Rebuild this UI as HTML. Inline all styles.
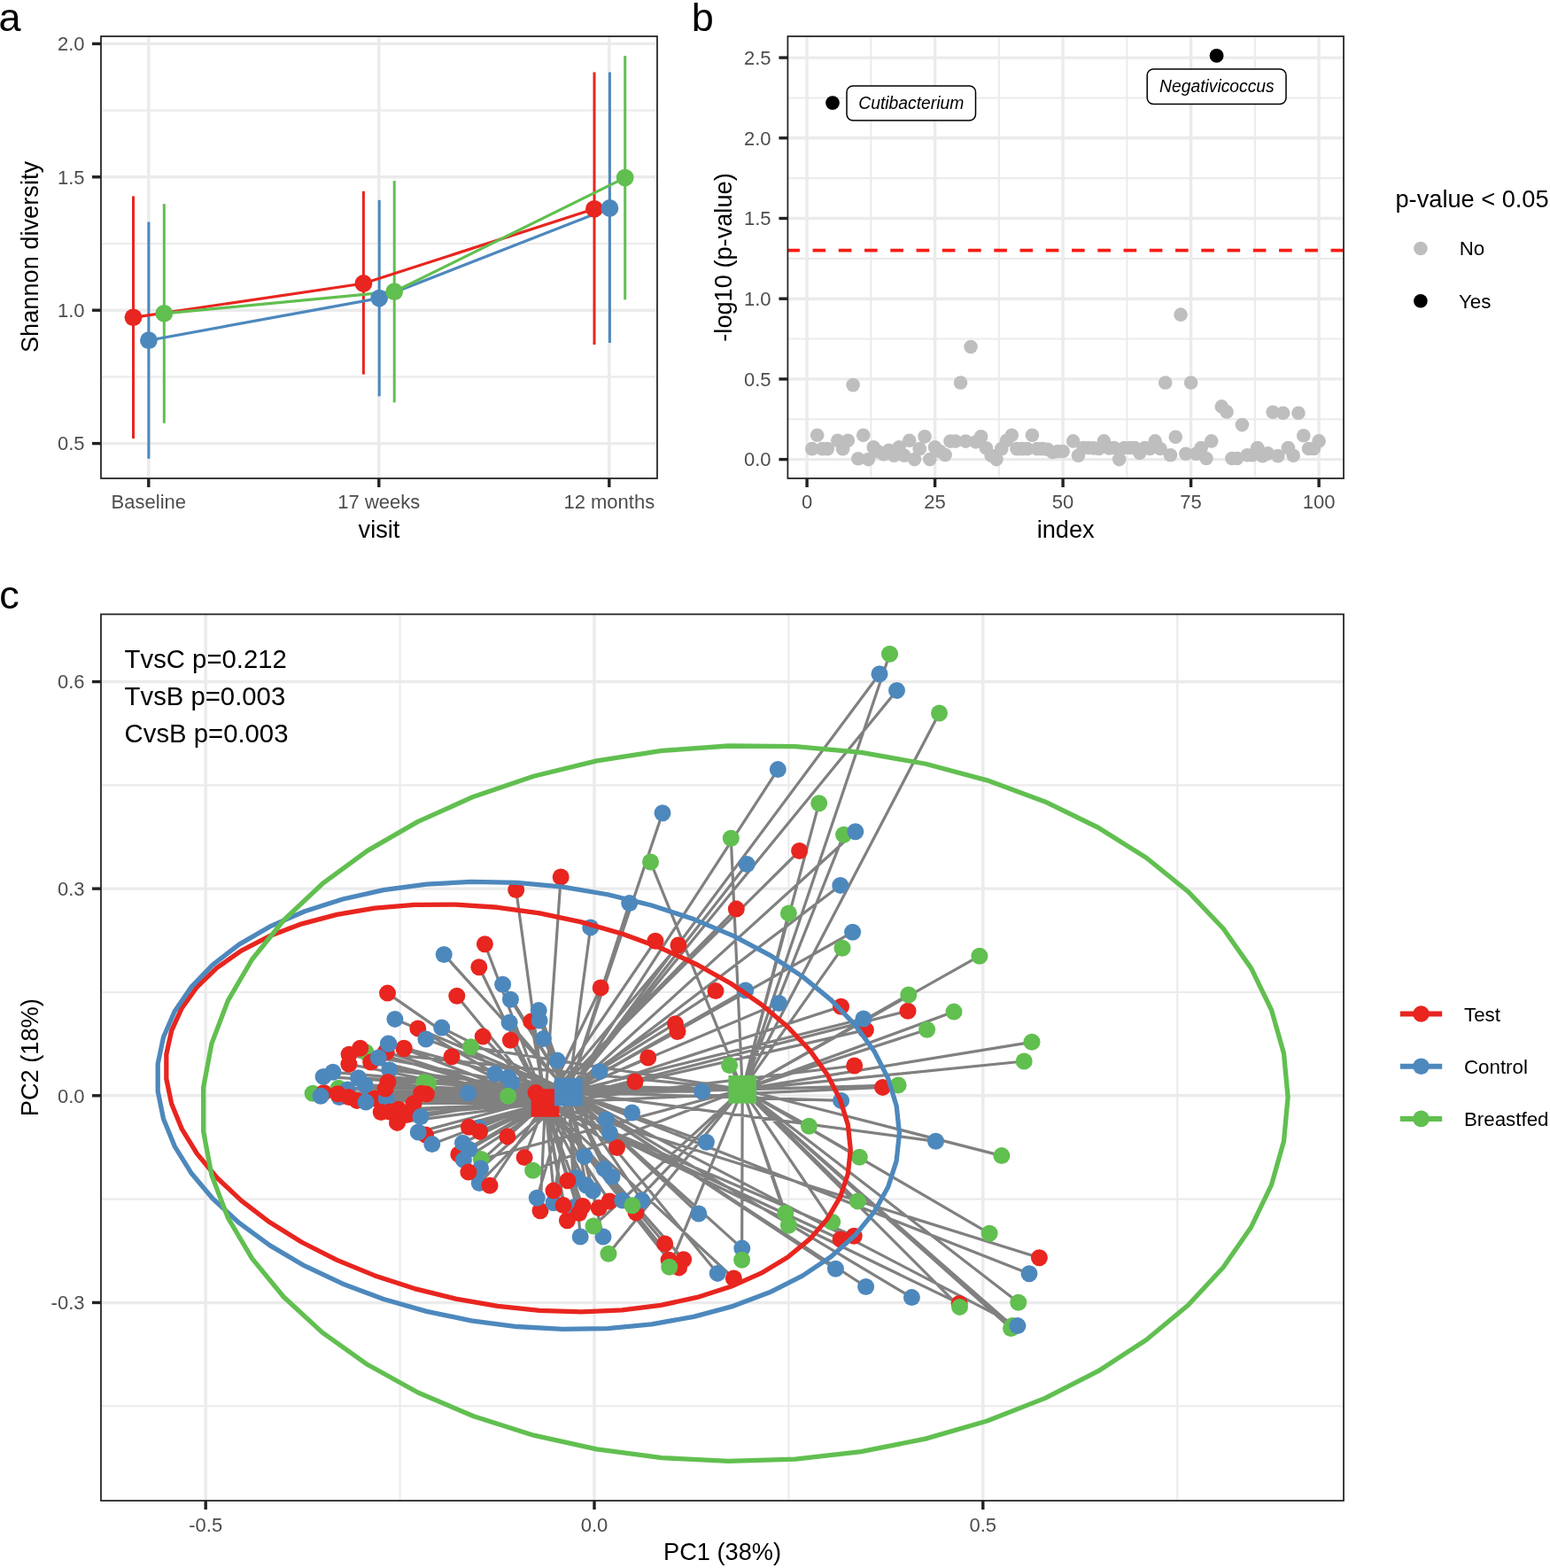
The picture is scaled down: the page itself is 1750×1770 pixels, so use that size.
<!DOCTYPE html>
<html><head><meta charset="utf-8"><title>Figure</title>
<style>html,body{margin:0;padding:0;background:#fff;}svg{display:block;}</style></head>
<body><svg width="1750" height="1770" viewBox="0 0 1750 1770" font-family="'Liberation Sans', Arial, Helvetica, sans-serif">
<rect width="1750" height="1770" fill="#fff"/>
<clipPath id="ca"><rect x="114" y="41" width="628" height="499"/></clipPath>
<g clip-path="url(#ca)">
<line x1="114" y1="425.4" x2="742" y2="425.4" stroke="#EBEBEB" stroke-width="2.1" />
<line x1="114" y1="275" x2="742" y2="275" stroke="#EBEBEB" stroke-width="2.1" />
<line x1="114" y1="124.6" x2="742" y2="124.6" stroke="#EBEBEB" stroke-width="2.1" />
<line x1="114" y1="500.6" x2="742" y2="500.6" stroke="#EBEBEB" stroke-width="3.4" />
<line x1="114" y1="350.2" x2="742" y2="350.2" stroke="#EBEBEB" stroke-width="3.4" />
<line x1="114" y1="199.8" x2="742" y2="199.8" stroke="#EBEBEB" stroke-width="3.4" />
<line x1="114" y1="49.4" x2="742" y2="49.4" stroke="#EBEBEB" stroke-width="3.4" />
<line x1="167.8" y1="41" x2="167.8" y2="540" stroke="#EBEBEB" stroke-width="3.4" />
<line x1="427.8" y1="41" x2="427.8" y2="540" stroke="#EBEBEB" stroke-width="3.4" />
<line x1="687.8" y1="41" x2="687.8" y2="540" stroke="#EBEBEB" stroke-width="3.4" />
<line x1="150.5" y1="221.5" x2="150.5" y2="495" stroke="#E8251F" stroke-width="3.0" />
<line x1="410.4" y1="215.8" x2="410.4" y2="422.6" stroke="#E8251F" stroke-width="3.0" />
<line x1="671" y1="81.6" x2="671" y2="389.1" stroke="#E8251F" stroke-width="3.0" />
<line x1="167.9" y1="250.6" x2="167.9" y2="517.7" stroke="#4D88BD" stroke-width="3.0" />
<line x1="428.2" y1="225.8" x2="428.2" y2="447.3" stroke="#4D88BD" stroke-width="3.0" />
<line x1="688.4" y1="81.6" x2="688.4" y2="387" stroke="#4D88BD" stroke-width="3.0" />
<line x1="185.3" y1="230.2" x2="185.3" y2="477.7" stroke="#61BF50" stroke-width="3.0" />
<line x1="445.2" y1="204.1" x2="445.2" y2="454.3" stroke="#61BF50" stroke-width="3.0" />
<line x1="705.7" y1="63" x2="705.7" y2="338.3" stroke="#61BF50" stroke-width="3.0" />
<polyline points="150.5,358.3 410.4,320 671,235.8" fill="none" stroke="#E8251F" stroke-width="3.2"/>
<polyline points="167.9,384.2 428.2,336.6 688.4,235" fill="none" stroke="#4D88BD" stroke-width="3.2"/>
<polyline points="185.3,353.8 445.2,329.2 705.7,200.6" fill="none" stroke="#61BF50" stroke-width="3.2"/>
<circle cx="150.5" cy="358.3" r="9.9" fill="#E8251F"/>
<circle cx="410.4" cy="320" r="9.9" fill="#E8251F"/>
<circle cx="671" cy="235.8" r="9.9" fill="#E8251F"/>
<circle cx="167.9" cy="384.2" r="9.9" fill="#4D88BD"/>
<circle cx="428.2" cy="336.6" r="9.9" fill="#4D88BD"/>
<circle cx="688.4" cy="235" r="9.9" fill="#4D88BD"/>
<circle cx="185.3" cy="353.8" r="9.9" fill="#61BF50"/>
<circle cx="445.2" cy="329.2" r="9.9" fill="#61BF50"/>
<circle cx="705.7" cy="200.6" r="9.9" fill="#61BF50"/>
</g>
<rect x="114" y="41" width="628" height="499" fill="none" stroke="#222222" stroke-width="1.75"/>
<line x1="104" y1="500.6" x2="114" y2="500.6" stroke="#222222" stroke-width="3.4" />
<text x="95.5" y="508.4" font-size="22.0" fill="#4D4D4D" text-anchor="end" >0.5</text>
<line x1="104" y1="350.2" x2="114" y2="350.2" stroke="#222222" stroke-width="3.4" />
<text x="95.5" y="358" font-size="22.0" fill="#4D4D4D" text-anchor="end" >1.0</text>
<line x1="104" y1="199.8" x2="114" y2="199.8" stroke="#222222" stroke-width="3.4" />
<text x="95.5" y="207.6" font-size="22.0" fill="#4D4D4D" text-anchor="end" >1.5</text>
<line x1="104" y1="49.4" x2="114" y2="49.4" stroke="#222222" stroke-width="3.4" />
<text x="95.5" y="57.2" font-size="22.0" fill="#4D4D4D" text-anchor="end" >2.0</text>
<line x1="167.8" y1="540" x2="167.8" y2="550" stroke="#222222" stroke-width="3.4" />
<text x="167.8" y="574.4" font-size="22.0" fill="#4D4D4D" text-anchor="middle" >Baseline</text>
<line x1="427.8" y1="540" x2="427.8" y2="550" stroke="#222222" stroke-width="3.4" />
<text x="427.8" y="574.4" font-size="22.0" fill="#4D4D4D" text-anchor="middle" >17 weeks</text>
<line x1="687.8" y1="540" x2="687.8" y2="550" stroke="#222222" stroke-width="3.4" />
<text x="687.8" y="574.4" font-size="22.0" fill="#4D4D4D" text-anchor="middle" >12 months</text>
<text x="428" y="607.1" font-size="27.2" fill="#000" text-anchor="middle" >visit</text>
<text x="43.3" y="290" font-size="27.2" fill="#000" text-anchor="middle" transform="rotate(-90 43.3 290)">Shannon diversity</text>
<text x="-1.5" y="34.6" font-size="45" fill="#000" text-anchor="start" >a</text>
<clipPath id="cb"><rect x="889.4" y="41" width="627.6" height="499"/></clipPath>
<g clip-path="url(#cb)">
<line x1="889.4" y1="473.25" x2="1517" y2="473.25" stroke="#EBEBEB" stroke-width="2.1" />
<line x1="889.4" y1="382.55" x2="1517" y2="382.55" stroke="#EBEBEB" stroke-width="2.1" />
<line x1="889.4" y1="291.85" x2="1517" y2="291.85" stroke="#EBEBEB" stroke-width="2.1" />
<line x1="889.4" y1="201.15" x2="1517" y2="201.15" stroke="#EBEBEB" stroke-width="2.1" />
<line x1="889.4" y1="110.45" x2="1517" y2="110.45" stroke="#EBEBEB" stroke-width="2.1" />
<line x1="983.35" y1="41" x2="983.35" y2="540" stroke="#EBEBEB" stroke-width="2.1" />
<line x1="1127.85" y1="41" x2="1127.85" y2="540" stroke="#EBEBEB" stroke-width="2.1" />
<line x1="1272.35" y1="41" x2="1272.35" y2="540" stroke="#EBEBEB" stroke-width="2.1" />
<line x1="1416.85" y1="41" x2="1416.85" y2="540" stroke="#EBEBEB" stroke-width="2.1" />
<line x1="889.4" y1="518.6" x2="1517" y2="518.6" stroke="#EBEBEB" stroke-width="3.4" />
<line x1="889.4" y1="427.9" x2="1517" y2="427.9" stroke="#EBEBEB" stroke-width="3.4" />
<line x1="889.4" y1="337.2" x2="1517" y2="337.2" stroke="#EBEBEB" stroke-width="3.4" />
<line x1="889.4" y1="246.5" x2="1517" y2="246.5" stroke="#EBEBEB" stroke-width="3.4" />
<line x1="889.4" y1="155.8" x2="1517" y2="155.8" stroke="#EBEBEB" stroke-width="3.4" />
<line x1="889.4" y1="65.1" x2="1517" y2="65.1" stroke="#EBEBEB" stroke-width="3.4" />
<line x1="911.1" y1="41" x2="911.1" y2="540" stroke="#EBEBEB" stroke-width="3.4" />
<line x1="1055.6" y1="41" x2="1055.6" y2="540" stroke="#EBEBEB" stroke-width="3.4" />
<line x1="1200.1" y1="41" x2="1200.1" y2="540" stroke="#EBEBEB" stroke-width="3.4" />
<line x1="1344.6" y1="41" x2="1344.6" y2="540" stroke="#EBEBEB" stroke-width="3.4" />
<line x1="1489.1" y1="41" x2="1489.1" y2="540" stroke="#EBEBEB" stroke-width="3.4" />
<circle cx="916.88" cy="506.63" r="7.8" fill="#BEBEBE"/>
<circle cx="922.66" cy="491.21" r="7.8" fill="#BEBEBE"/>
<circle cx="928.44" cy="506.63" r="7.8" fill="#BEBEBE"/>
<circle cx="934.22" cy="506.63" r="7.8" fill="#BEBEBE"/>
<circle cx="945.78" cy="497.19" r="7.8" fill="#BEBEBE"/>
<circle cx="951.56" cy="506.63" r="7.8" fill="#BEBEBE"/>
<circle cx="957.34" cy="497.19" r="7.8" fill="#BEBEBE"/>
<circle cx="963.12" cy="434.61" r="7.8" fill="#BEBEBE"/>
<circle cx="968.9" cy="517.69" r="7.8" fill="#BEBEBE"/>
<circle cx="974.68" cy="491.21" r="7.8" fill="#BEBEBE"/>
<circle cx="980.46" cy="518.6" r="7.8" fill="#BEBEBE"/>
<circle cx="986.24" cy="504.81" r="7.8" fill="#BEBEBE"/>
<circle cx="992.02" cy="510.07" r="7.8" fill="#BEBEBE"/>
<circle cx="997.8" cy="512.61" r="7.8" fill="#BEBEBE"/>
<circle cx="1003.58" cy="508.26" r="7.8" fill="#BEBEBE"/>
<circle cx="1009.36" cy="514.25" r="7.8" fill="#BEBEBE"/>
<circle cx="1015.14" cy="504.81" r="7.8" fill="#BEBEBE"/>
<circle cx="1020.92" cy="514.25" r="7.8" fill="#BEBEBE"/>
<circle cx="1026.7" cy="497.19" r="7.8" fill="#BEBEBE"/>
<circle cx="1032.48" cy="518.6" r="7.8" fill="#BEBEBE"/>
<circle cx="1038.26" cy="506.63" r="7.8" fill="#BEBEBE"/>
<circle cx="1044.04" cy="492.84" r="7.8" fill="#BEBEBE"/>
<circle cx="1049.82" cy="518.6" r="7.8" fill="#BEBEBE"/>
<circle cx="1055.6" cy="504.81" r="7.8" fill="#BEBEBE"/>
<circle cx="1061.38" cy="509.53" r="7.8" fill="#BEBEBE"/>
<circle cx="1067.16" cy="513.52" r="7.8" fill="#BEBEBE"/>
<circle cx="1072.94" cy="498.1" r="7.8" fill="#BEBEBE"/>
<circle cx="1078.72" cy="498.1" r="7.8" fill="#BEBEBE"/>
<circle cx="1084.5" cy="432.07" r="7.8" fill="#BEBEBE"/>
<circle cx="1090.28" cy="498.1" r="7.8" fill="#BEBEBE"/>
<circle cx="1096.06" cy="391.44" r="7.8" fill="#BEBEBE"/>
<circle cx="1101.84" cy="498.83" r="7.8" fill="#BEBEBE"/>
<circle cx="1107.62" cy="492.84" r="7.8" fill="#BEBEBE"/>
<circle cx="1113.4" cy="505.72" r="7.8" fill="#BEBEBE"/>
<circle cx="1119.18" cy="514.25" r="7.8" fill="#BEBEBE"/>
<circle cx="1124.96" cy="518.6" r="7.8" fill="#BEBEBE"/>
<circle cx="1130.74" cy="506.63" r="7.8" fill="#BEBEBE"/>
<circle cx="1136.52" cy="497.19" r="7.8" fill="#BEBEBE"/>
<circle cx="1142.3" cy="491.21" r="7.8" fill="#BEBEBE"/>
<circle cx="1148.08" cy="506.63" r="7.8" fill="#BEBEBE"/>
<circle cx="1153.86" cy="506.63" r="7.8" fill="#BEBEBE"/>
<circle cx="1159.64" cy="506.63" r="7.8" fill="#BEBEBE"/>
<circle cx="1165.42" cy="491.21" r="7.8" fill="#BEBEBE"/>
<circle cx="1171.2" cy="506.63" r="7.8" fill="#BEBEBE"/>
<circle cx="1176.98" cy="506.63" r="7.8" fill="#BEBEBE"/>
<circle cx="1182.76" cy="507.35" r="7.8" fill="#BEBEBE"/>
<circle cx="1188.54" cy="510.44" r="7.8" fill="#BEBEBE"/>
<circle cx="1194.32" cy="509.53" r="7.8" fill="#BEBEBE"/>
<circle cx="1200.1" cy="509.53" r="7.8" fill="#BEBEBE"/>
<circle cx="1211.66" cy="497.92" r="7.8" fill="#BEBEBE"/>
<circle cx="1217.44" cy="514.25" r="7.8" fill="#BEBEBE"/>
<circle cx="1223.22" cy="505.54" r="7.8" fill="#BEBEBE"/>
<circle cx="1229" cy="505.54" r="7.8" fill="#BEBEBE"/>
<circle cx="1234.78" cy="505.9" r="7.8" fill="#BEBEBE"/>
<circle cx="1240.56" cy="506.45" r="7.8" fill="#BEBEBE"/>
<circle cx="1246.34" cy="497.92" r="7.8" fill="#BEBEBE"/>
<circle cx="1252.12" cy="505.9" r="7.8" fill="#BEBEBE"/>
<circle cx="1257.9" cy="505.54" r="7.8" fill="#BEBEBE"/>
<circle cx="1263.68" cy="518.6" r="7.8" fill="#BEBEBE"/>
<circle cx="1269.46" cy="505.54" r="7.8" fill="#BEBEBE"/>
<circle cx="1275.24" cy="505.54" r="7.8" fill="#BEBEBE"/>
<circle cx="1281.02" cy="505.54" r="7.8" fill="#BEBEBE"/>
<circle cx="1286.8" cy="511.34" r="7.8" fill="#BEBEBE"/>
<circle cx="1292.58" cy="505.54" r="7.8" fill="#BEBEBE"/>
<circle cx="1298.36" cy="506.45" r="7.8" fill="#BEBEBE"/>
<circle cx="1304.14" cy="497.92" r="7.8" fill="#BEBEBE"/>
<circle cx="1309.92" cy="506.45" r="7.8" fill="#BEBEBE"/>
<circle cx="1315.7" cy="432.07" r="7.8" fill="#BEBEBE"/>
<circle cx="1321.48" cy="513.7" r="7.8" fill="#BEBEBE"/>
<circle cx="1327.26" cy="493.2" r="7.8" fill="#BEBEBE"/>
<circle cx="1333.04" cy="355.16" r="7.8" fill="#BEBEBE"/>
<circle cx="1338.82" cy="512.25" r="7.8" fill="#BEBEBE"/>
<circle cx="1344.6" cy="432.07" r="7.8" fill="#BEBEBE"/>
<circle cx="1350.38" cy="512.25" r="7.8" fill="#BEBEBE"/>
<circle cx="1356.16" cy="505.54" r="7.8" fill="#BEBEBE"/>
<circle cx="1361.94" cy="517.51" r="7.8" fill="#BEBEBE"/>
<circle cx="1367.72" cy="497.92" r="7.8" fill="#BEBEBE"/>
<circle cx="1379.28" cy="458.92" r="7.8" fill="#BEBEBE"/>
<circle cx="1385.06" cy="464.91" r="7.8" fill="#BEBEBE"/>
<circle cx="1390.84" cy="517.51" r="7.8" fill="#BEBEBE"/>
<circle cx="1396.62" cy="517.51" r="7.8" fill="#BEBEBE"/>
<circle cx="1402.4" cy="479.6" r="7.8" fill="#BEBEBE"/>
<circle cx="1408.18" cy="513.7" r="7.8" fill="#BEBEBE"/>
<circle cx="1413.96" cy="513.7" r="7.8" fill="#BEBEBE"/>
<circle cx="1419.74" cy="505.54" r="7.8" fill="#BEBEBE"/>
<circle cx="1425.52" cy="514.61" r="7.8" fill="#BEBEBE"/>
<circle cx="1431.3" cy="511.89" r="7.8" fill="#BEBEBE"/>
<circle cx="1437.08" cy="465.27" r="7.8" fill="#BEBEBE"/>
<circle cx="1442.86" cy="514.61" r="7.8" fill="#BEBEBE"/>
<circle cx="1448.64" cy="466.18" r="7.8" fill="#BEBEBE"/>
<circle cx="1454.42" cy="505.54" r="7.8" fill="#BEBEBE"/>
<circle cx="1460.2" cy="514.25" r="7.8" fill="#BEBEBE"/>
<circle cx="1465.98" cy="466.18" r="7.8" fill="#BEBEBE"/>
<circle cx="1471.76" cy="491.75" r="7.8" fill="#BEBEBE"/>
<circle cx="1477.54" cy="506.45" r="7.8" fill="#BEBEBE"/>
<circle cx="1483.32" cy="506.45" r="7.8" fill="#BEBEBE"/>
<circle cx="1489.1" cy="497.92" r="7.8" fill="#BEBEBE"/>
<line x1="888.3" y1="282.59" x2="1517" y2="282.59" stroke="#F81C14" stroke-width="3.6" stroke-dasharray="14.6 14.65"/>
<circle cx="940" cy="116.1" r="7.9" fill="#000"/>
<circle cx="1373.6" cy="62.9" r="7.9" fill="#000"/>
</g>
<rect x="956" y="97" width="145.5" height="39" rx="7" ry="7" fill="#fff" stroke="#000" stroke-width="1.5"/>
<text x="1028.8" y="123.2" font-size="19.3" fill="#000" text-anchor="middle" font-style="italic">Cutibacterium</text>
<rect x="1295.2" y="78" width="156.8" height="39.5" rx="7" ry="7" fill="#fff" stroke="#000" stroke-width="1.5"/>
<text x="1373.9" y="104" font-size="19.3" fill="#000" text-anchor="middle" font-style="italic">Negativicoccus</text>
<rect x="889.4" y="41" width="627.6" height="499" fill="none" stroke="#222222" stroke-width="1.75"/>
<line x1="879.4" y1="518.6" x2="889.4" y2="518.6" stroke="#222222" stroke-width="3.4" />
<text x="870.6" y="526.4" font-size="22.0" fill="#4D4D4D" text-anchor="end" >0.0</text>
<line x1="879.4" y1="427.9" x2="889.4" y2="427.9" stroke="#222222" stroke-width="3.4" />
<text x="870.6" y="435.7" font-size="22.0" fill="#4D4D4D" text-anchor="end" >0.5</text>
<line x1="879.4" y1="337.2" x2="889.4" y2="337.2" stroke="#222222" stroke-width="3.4" />
<text x="870.6" y="345" font-size="22.0" fill="#4D4D4D" text-anchor="end" >1.0</text>
<line x1="879.4" y1="246.5" x2="889.4" y2="246.5" stroke="#222222" stroke-width="3.4" />
<text x="870.6" y="254.3" font-size="22.0" fill="#4D4D4D" text-anchor="end" >1.5</text>
<line x1="879.4" y1="155.8" x2="889.4" y2="155.8" stroke="#222222" stroke-width="3.4" />
<text x="870.6" y="163.6" font-size="22.0" fill="#4D4D4D" text-anchor="end" >2.0</text>
<line x1="879.4" y1="65.1" x2="889.4" y2="65.1" stroke="#222222" stroke-width="3.4" />
<text x="870.6" y="72.9" font-size="22.0" fill="#4D4D4D" text-anchor="end" >2.5</text>
<line x1="911.1" y1="540" x2="911.1" y2="550" stroke="#222222" stroke-width="3.4" />
<text x="911.1" y="574.4" font-size="22.0" fill="#4D4D4D" text-anchor="middle" >0</text>
<line x1="1055.6" y1="540" x2="1055.6" y2="550" stroke="#222222" stroke-width="3.4" />
<text x="1055.6" y="574.4" font-size="22.0" fill="#4D4D4D" text-anchor="middle" >25</text>
<line x1="1200.1" y1="540" x2="1200.1" y2="550" stroke="#222222" stroke-width="3.4" />
<text x="1200.1" y="574.4" font-size="22.0" fill="#4D4D4D" text-anchor="middle" >50</text>
<line x1="1344.6" y1="540" x2="1344.6" y2="550" stroke="#222222" stroke-width="3.4" />
<text x="1344.6" y="574.4" font-size="22.0" fill="#4D4D4D" text-anchor="middle" >75</text>
<line x1="1489.1" y1="540" x2="1489.1" y2="550" stroke="#222222" stroke-width="3.4" />
<text x="1489.1" y="574.4" font-size="22.0" fill="#4D4D4D" text-anchor="middle" >100</text>
<text x="1203.2" y="607.1" font-size="27.2" fill="#000" text-anchor="middle" >index</text>
<text x="825.9" y="290.5" font-size="27.2" fill="#000" text-anchor="middle" transform="rotate(-90 825.9 290.5)">-log10 (p-value)</text>
<text x="780.7" y="34.8" font-size="45" fill="#000" text-anchor="start" >b</text>
<text x="1575.5" y="234" font-size="27.2" fill="#000" text-anchor="start" >p-value &lt; 0.05</text>
<circle cx="1603.9" cy="280.5" r="7.8" fill="#BEBEBE"/>
<circle cx="1603.9" cy="339.7" r="7.8" fill="#000"/>
<text x="1647.7" y="288.3" font-size="22.3" fill="#000" text-anchor="start" >No</text>
<text x="1647" y="347.5" font-size="22.3" fill="#000" text-anchor="start" >Yes</text>
<clipPath id="cc"><rect x="114" y="693.4" width="1403" height="1000.6"/></clipPath>
<g clip-path="url(#cc)">
<line x1="114" y1="1587.26" x2="1517" y2="1587.26" stroke="#EBEBEB" stroke-width="2.1" />
<line x1="114" y1="1353.62" x2="1517" y2="1353.62" stroke="#EBEBEB" stroke-width="2.1" />
<line x1="114" y1="1119.98" x2="1517" y2="1119.98" stroke="#EBEBEB" stroke-width="2.1" />
<line x1="114" y1="886.34" x2="1517" y2="886.34" stroke="#EBEBEB" stroke-width="2.1" />
<line x1="451.6" y1="693.4" x2="451.6" y2="1694" stroke="#EBEBEB" stroke-width="2.1" />
<line x1="890.4" y1="693.4" x2="890.4" y2="1694" stroke="#EBEBEB" stroke-width="2.1" />
<line x1="1329.2" y1="693.4" x2="1329.2" y2="1694" stroke="#EBEBEB" stroke-width="2.1" />
<line x1="114" y1="1470.44" x2="1517" y2="1470.44" stroke="#EBEBEB" stroke-width="3.4" />
<line x1="114" y1="1236.8" x2="1517" y2="1236.8" stroke="#EBEBEB" stroke-width="3.4" />
<line x1="114" y1="1003.16" x2="1517" y2="1003.16" stroke="#EBEBEB" stroke-width="3.4" />
<line x1="114" y1="769.52" x2="1517" y2="769.52" stroke="#EBEBEB" stroke-width="3.4" />
<line x1="232.2" y1="693.4" x2="232.2" y2="1694" stroke="#EBEBEB" stroke-width="3.4" />
<line x1="671" y1="693.4" x2="671" y2="1694" stroke="#EBEBEB" stroke-width="3.4" />
<line x1="1109.8" y1="693.4" x2="1109.8" y2="1694" stroke="#EBEBEB" stroke-width="3.4" />
<path d="M838.2 1229.8L1004.5 738.3M641.8 1232.7L993 760.7M641.8 1232.7L1012.5 779.4M838.2 1229.8L1060.5 805M641.8 1232.7L878.3 868.6M641.8 1232.7L748 917.7M838.2 1229.8L924.7 906.7M838.2 1229.8L825.3 946.3M838.2 1229.8L952.6 942.2M641.8 1232.7L965.8 938.7M838.2 1229.8L734.5 973M615.5 1245L633.2 990M615.5 1245L582.7 1004.5M641.8 1232.7L710.7 1019.5M615.5 1245L902.6 960.5M641.8 1232.7L843.2 975.5M641.8 1232.7L948.8 999.4M615.5 1245L831.3 1026.1M838.2 1229.8L890.4 1030.9M641.8 1232.7L501.2 1077.5M615.5 1245L547.4 1065.8M615.5 1245L540.8 1091.8M615.5 1245L437.5 1121.1M615.5 1245L515.8 1124.2M641.8 1232.7L445.9 1150.4M615.5 1245L471.8 1160.9M641.8 1232.7L498.7 1160.1M641.8 1232.7L480.9 1173M615.5 1245L545.2 1170.1M838.2 1229.8L531.5 1181.8M615.5 1245L510 1192.7M615.5 1245L456.1 1183.3M615.5 1245L436.2 1187.7M641.8 1232.7L438.7 1178.3M838.2 1229.8L413 1187.7M615.5 1245L406.7 1183.3M615.5 1245L394.1 1190.2M641.8 1232.7L427.4 1194M641.8 1232.7L666.7 1046.9M615.5 1245L739.9 1062.2M615.5 1245L766 1066.9M615.5 1245L678.2 1115M641.8 1232.7L567.6 1111.3M641.8 1232.7L576.4 1128.3M641.8 1232.7L609.1 1151.9M615.5 1245L599.7 1153.1M641.8 1232.7L608.2 1140.6M641.8 1232.7L575.1 1154.2M615.5 1245L576.4 1174.3M641.8 1232.7L613.5 1172.6M641.8 1232.7L629.2 1197.1M615.5 1245L762.5 1155.7M615.5 1245L765 1164.5M615.5 1245L731.7 1194M641.8 1232.7L962.6 1052.3M838.2 1229.8L951 1070.2M615.5 1245L808 1118.6M641.8 1232.7L841.7 1117.9M641.8 1232.7L879.4 1132.4M615.5 1245L949.5 1136.2M615.5 1245L977.4 1162.6M641.8 1232.7L974.9 1150M838.2 1229.8L823.6 1202.6M615.5 1245L964.7 1203M838.2 1229.8L1105.9 1079.2M838.2 1229.8L1025.8 1123M615.5 1245L1025 1141.2M838.2 1229.8L1077 1142.1M838.2 1229.8L1046.6 1162.2M838.2 1229.8L1165 1176.3M838.2 1229.8L1156.2 1198M838.2 1229.8L353.1 1234.3M615.5 1245L365.6 1233.4M641.8 1232.7L362.1 1237.3M641.8 1232.7L365.1 1215.4M641.8 1232.7L375.9 1210.3M838.2 1229.8L382.3 1228.3M641.8 1232.7L383.1 1238.6M615.5 1245L381.4 1234.7M641.8 1232.7L392.6 1230M615.5 1245L393.9 1238.6M615.5 1245L393.9 1201.3M641.8 1232.7L404.6 1216.7M641.8 1232.7L412.3 1224.9M615.5 1245L402.9 1242.4M641.8 1232.7L413.1 1244.1M615.5 1245L422.6 1239.9M838.2 1229.8L431.6 1241.1M641.8 1232.7L436.3 1240.3M615.5 1245L418.7 1199.1M641.8 1232.7L438.4 1178.1M615.5 1245L435.4 1187.1M615.5 1245L456 1183.7M641.8 1232.7L439.7 1207.7M615.5 1245L438 1221.4M615.5 1245L435 1229.1M615.5 1245L430.2 1255.5M615.5 1245L439.7 1254.9M615.5 1245L448.5 1267.4M615.5 1245L450 1252.3M615.5 1245L459.4 1258.2M615.5 1245L467.1 1245.4M615.5 1245L475.7 1234.3M838.2 1229.8L479.1 1221.4M641.8 1232.7L475 1260.5M641.8 1232.7L472.2 1278M615.5 1245L480.5 1281.1M641.8 1232.7L487.8 1291.6M641.8 1232.7L559 1212M641.8 1232.7L574 1216.3M641.8 1232.7L577.4 1222.3M838.2 1229.8L573.6 1237.3M641.8 1232.7L528.6 1233.9M838.2 1229.8L483.6 1223.1M615.5 1245L481.4 1235.1M615.5 1245L529.4 1272.2M641.8 1232.7L540.6 1273M615.5 1245L541.6 1277.4M615.5 1245L572.9 1282.9M615.5 1245L605 1233.5M641.8 1232.7L677.1 1209.4M615.5 1245L717 1221M641.8 1232.7L713.6 1256M641.8 1232.7L684.4 1263.9M641.8 1232.7L688.5 1279M641.8 1232.7L792.7 1232.1M615.5 1245L996.6 1227.4M838.2 1229.8L1014.1 1224.9M641.8 1232.7L949.6 1242.4M838.2 1229.8L913.4 1271.2M641.8 1232.7L1056.5 1288.3M641.8 1232.7L522.5 1290.2M641.8 1232.7L529.8 1297.5M615.5 1245L517.9 1303M641.8 1232.7L523.4 1309.4M838.2 1229.8L543.2 1308.5M641.8 1232.7L542.6 1319M615.5 1245L528.9 1323.1M641.8 1232.7L541.3 1335.5M615.5 1245L553 1338.2M615.5 1245L592.1 1306.6M838.2 1229.8L601.7 1321.3M641.8 1232.7L659.8 1305.3M615.5 1245L696.5 1295.5M641.8 1232.7L682.2 1319.4M641.8 1232.7L691 1328.6M641.8 1232.7L650.6 1329.5M615.5 1245L641 1332.7M615.5 1245L625 1344.1M641.8 1232.7L661.6 1337.7M641.8 1232.7L669.4 1344.1M641.8 1232.7L606.3 1352.3M641.8 1232.7L625 1357.8M615.5 1245L636 1360.6M641.8 1232.7L648.8 1362.4M615.5 1245L657.9 1361.5M615.5 1245L676.2 1363.5M615.5 1245L688.1 1356M615.5 1245L610 1366.7M615.5 1245L653.7 1369.5M615.5 1245L640.4 1377.7M838.2 1229.8L670 1384M641.8 1232.7L797.4 1289.3M641.8 1232.7L702.8 1355.1M838.2 1229.8L713.9 1360.7M641.8 1232.7L724.7 1355.1M615.5 1245L718 1368.7M641.8 1232.7L788.8 1370M838.2 1229.8L970.3 1306.2M838.2 1229.8L968.3 1355.9M838.2 1229.8L886.8 1369.4M838.2 1229.8L890.4 1383.3M838.2 1229.8L939.7 1379.5M838.2 1229.8L1130.9 1304.6M838.2 1229.8L1117.1 1392.3M641.8 1232.7L655.2 1396M641.8 1232.7L681 1396M838.2 1229.8L687 1415.3M615.5 1245L750.7 1404M615.5 1245L755.1 1422.3M615.5 1245L771.7 1421.7M615.5 1245L766.6 1430.9M838.2 1229.8L755.7 1430.3M641.8 1232.7L837.8 1409.1M838.2 1229.8L837.6 1422.3M641.8 1232.7L810.2 1437.4M615.5 1245L828.4 1443M615.5 1245L949.1 1399M615.5 1245L964.2 1395.3M641.8 1232.7L943.4 1432.3M641.8 1232.7L977.6 1452.5M615.5 1245L1173.4 1419.8M641.8 1232.7L1162 1437.7M641.8 1232.7L1029.4 1464.6M615.5 1245L1083.1 1471.4M838.2 1229.8L1083.5 1475.4M838.2 1229.8L1149.8 1470.3M838.2 1229.8L1143.1 1496.6M838.2 1229.8L1141.5 1499.6M641.8 1232.7L1148.9 1496.6" stroke="#808080" stroke-width="3.2" fill="none"/>
<circle cx="952.6" cy="942.2" r="9.5" fill="#61BF50"/>
<circle cx="413" cy="1187.7" r="9.5" fill="#61BF50"/>
<circle cx="353.1" cy="1234.3" r="9.5" fill="#61BF50"/>
<circle cx="382.3" cy="1228.3" r="9.5" fill="#61BF50"/>
<circle cx="431.6" cy="1241.1" r="9.5" fill="#61BF50"/>
<circle cx="479.1" cy="1221.4" r="9.5" fill="#61BF50"/>
<circle cx="483.6" cy="1223.1" r="9.5" fill="#61BF50"/>
<circle cx="543.2" cy="1308.5" r="9.5" fill="#61BF50"/>
<circle cx="1143.1" cy="1496.6" r="9.5" fill="#61BF50"/>
<circle cx="1141.5" cy="1499.6" r="9.5" fill="#61BF50"/>
<circle cx="633.2" cy="990" r="9.5" fill="#E8251F"/>
<circle cx="582.7" cy="1004.5" r="9.5" fill="#E8251F"/>
<circle cx="902.6" cy="960.5" r="9.5" fill="#E8251F"/>
<circle cx="831.3" cy="1026.1" r="9.5" fill="#E8251F"/>
<circle cx="547.4" cy="1065.8" r="9.5" fill="#E8251F"/>
<circle cx="540.8" cy="1091.8" r="9.5" fill="#E8251F"/>
<circle cx="437.5" cy="1121.1" r="9.5" fill="#E8251F"/>
<circle cx="515.8" cy="1124.2" r="9.5" fill="#E8251F"/>
<circle cx="471.8" cy="1160.9" r="9.5" fill="#E8251F"/>
<circle cx="545.2" cy="1170.1" r="9.5" fill="#E8251F"/>
<circle cx="510" cy="1192.7" r="9.5" fill="#E8251F"/>
<circle cx="456.1" cy="1183.3" r="9.5" fill="#E8251F"/>
<circle cx="436.2" cy="1187.7" r="9.5" fill="#E8251F"/>
<circle cx="406.7" cy="1183.3" r="9.5" fill="#E8251F"/>
<circle cx="394.1" cy="1190.2" r="9.5" fill="#E8251F"/>
<circle cx="739.9" cy="1062.2" r="9.5" fill="#E8251F"/>
<circle cx="766" cy="1066.9" r="9.5" fill="#E8251F"/>
<circle cx="678.2" cy="1115" r="9.5" fill="#E8251F"/>
<circle cx="599.7" cy="1153.1" r="9.5" fill="#E8251F"/>
<circle cx="576.4" cy="1174.3" r="9.5" fill="#E8251F"/>
<circle cx="762.5" cy="1155.7" r="9.5" fill="#E8251F"/>
<circle cx="765" cy="1164.5" r="9.5" fill="#E8251F"/>
<circle cx="731.7" cy="1194" r="9.5" fill="#E8251F"/>
<circle cx="808" cy="1118.6" r="9.5" fill="#E8251F"/>
<circle cx="949.5" cy="1136.2" r="9.5" fill="#E8251F"/>
<circle cx="977.4" cy="1162.6" r="9.5" fill="#E8251F"/>
<circle cx="964.7" cy="1203" r="9.5" fill="#E8251F"/>
<circle cx="1025" cy="1141.2" r="9.5" fill="#E8251F"/>
<circle cx="365.6" cy="1233.4" r="9.5" fill="#E8251F"/>
<circle cx="393.9" cy="1201.3" r="9.5" fill="#E8251F"/>
<circle cx="402.9" cy="1242.4" r="9.5" fill="#E8251F"/>
<circle cx="422.6" cy="1239.9" r="9.5" fill="#E8251F"/>
<circle cx="418.7" cy="1199.1" r="9.5" fill="#E8251F"/>
<circle cx="435.4" cy="1187.1" r="9.5" fill="#E8251F"/>
<circle cx="456" cy="1183.7" r="9.5" fill="#E8251F"/>
<circle cx="480.5" cy="1281.1" r="9.5" fill="#E8251F"/>
<circle cx="481.4" cy="1235.1" r="9.5" fill="#E8251F"/>
<circle cx="572.9" cy="1282.9" r="9.5" fill="#E8251F"/>
<circle cx="605" cy="1233.5" r="9.5" fill="#E8251F"/>
<circle cx="717" cy="1221" r="9.5" fill="#E8251F"/>
<circle cx="996.6" cy="1227.4" r="9.5" fill="#E8251F"/>
<circle cx="517.9" cy="1303" r="9.5" fill="#E8251F"/>
<circle cx="592.1" cy="1306.6" r="9.5" fill="#E8251F"/>
<circle cx="696.5" cy="1295.5" r="9.5" fill="#E8251F"/>
<circle cx="676.2" cy="1363.5" r="9.5" fill="#E8251F"/>
<circle cx="688.1" cy="1356" r="9.5" fill="#E8251F"/>
<circle cx="610" cy="1366.7" r="9.5" fill="#E8251F"/>
<circle cx="718" cy="1368.7" r="9.5" fill="#E8251F"/>
<circle cx="750.7" cy="1404" r="9.5" fill="#E8251F"/>
<circle cx="755.1" cy="1422.3" r="9.5" fill="#E8251F"/>
<circle cx="771.7" cy="1421.7" r="9.5" fill="#E8251F"/>
<circle cx="766.6" cy="1430.9" r="9.5" fill="#E8251F"/>
<circle cx="828.4" cy="1443" r="9.5" fill="#E8251F"/>
<circle cx="949.1" cy="1399" r="9.5" fill="#E8251F"/>
<circle cx="964.2" cy="1395.3" r="9.5" fill="#E8251F"/>
<circle cx="1173.4" cy="1419.8" r="9.5" fill="#E8251F"/>
<circle cx="1083.1" cy="1471.4" r="9.5" fill="#E8251F"/>
<circle cx="993" cy="760.7" r="9.5" fill="#4D88BD"/>
<circle cx="1012.5" cy="779.4" r="9.5" fill="#4D88BD"/>
<circle cx="878.3" cy="868.6" r="9.5" fill="#4D88BD"/>
<circle cx="748" cy="917.7" r="9.5" fill="#4D88BD"/>
<circle cx="965.8" cy="938.7" r="9.5" fill="#4D88BD"/>
<circle cx="710.7" cy="1019.5" r="9.5" fill="#4D88BD"/>
<circle cx="843.2" cy="975.5" r="9.5" fill="#4D88BD"/>
<circle cx="948.8" cy="999.4" r="9.5" fill="#4D88BD"/>
<circle cx="501.2" cy="1077.5" r="9.5" fill="#4D88BD"/>
<circle cx="445.9" cy="1150.4" r="9.5" fill="#4D88BD"/>
<circle cx="498.7" cy="1160.1" r="9.5" fill="#4D88BD"/>
<circle cx="480.9" cy="1173" r="9.5" fill="#4D88BD"/>
<circle cx="438.7" cy="1178.3" r="9.5" fill="#4D88BD"/>
<circle cx="427.4" cy="1194" r="9.5" fill="#4D88BD"/>
<circle cx="666.7" cy="1046.9" r="9.5" fill="#4D88BD"/>
<circle cx="567.6" cy="1111.3" r="9.5" fill="#4D88BD"/>
<circle cx="576.4" cy="1128.3" r="9.5" fill="#4D88BD"/>
<circle cx="609.1" cy="1151.9" r="9.5" fill="#4D88BD"/>
<circle cx="608.2" cy="1140.6" r="9.5" fill="#4D88BD"/>
<circle cx="575.1" cy="1154.2" r="9.5" fill="#4D88BD"/>
<circle cx="613.5" cy="1172.6" r="9.5" fill="#4D88BD"/>
<circle cx="629.2" cy="1197.1" r="9.5" fill="#4D88BD"/>
<circle cx="962.6" cy="1052.3" r="9.5" fill="#4D88BD"/>
<circle cx="841.7" cy="1117.9" r="9.5" fill="#4D88BD"/>
<circle cx="879.4" cy="1132.4" r="9.5" fill="#4D88BD"/>
<circle cx="974.9" cy="1150" r="9.5" fill="#4D88BD"/>
<circle cx="362.1" cy="1237.3" r="9.5" fill="#4D88BD"/>
<circle cx="365.1" cy="1215.4" r="9.5" fill="#4D88BD"/>
<circle cx="375.9" cy="1210.3" r="9.5" fill="#4D88BD"/>
<circle cx="383.1" cy="1238.6" r="9.5" fill="#4D88BD"/>
<circle cx="392.6" cy="1230" r="9.5" fill="#4D88BD"/>
<circle cx="404.6" cy="1216.7" r="9.5" fill="#4D88BD"/>
<circle cx="412.3" cy="1224.9" r="9.5" fill="#4D88BD"/>
<circle cx="436.3" cy="1240.3" r="9.5" fill="#4D88BD"/>
<circle cx="438.4" cy="1178.1" r="9.5" fill="#4D88BD"/>
<circle cx="439.7" cy="1207.7" r="9.5" fill="#4D88BD"/>
<circle cx="487.8" cy="1291.6" r="9.5" fill="#4D88BD"/>
<circle cx="559" cy="1212" r="9.5" fill="#4D88BD"/>
<circle cx="574" cy="1216.3" r="9.5" fill="#4D88BD"/>
<circle cx="577.4" cy="1222.3" r="9.5" fill="#4D88BD"/>
<circle cx="528.6" cy="1233.9" r="9.5" fill="#4D88BD"/>
<circle cx="540.6" cy="1273" r="9.5" fill="#4D88BD"/>
<circle cx="677.1" cy="1209.4" r="9.5" fill="#4D88BD"/>
<circle cx="713.6" cy="1256" r="9.5" fill="#4D88BD"/>
<circle cx="684.4" cy="1263.9" r="9.5" fill="#4D88BD"/>
<circle cx="688.5" cy="1279" r="9.5" fill="#4D88BD"/>
<circle cx="792.7" cy="1232.1" r="9.5" fill="#4D88BD"/>
<circle cx="949.6" cy="1242.4" r="9.5" fill="#4D88BD"/>
<circle cx="1056.5" cy="1288.3" r="9.5" fill="#4D88BD"/>
<circle cx="522.5" cy="1290.2" r="9.5" fill="#4D88BD"/>
<circle cx="529.8" cy="1297.5" r="9.5" fill="#4D88BD"/>
<circle cx="523.4" cy="1309.4" r="9.5" fill="#4D88BD"/>
<circle cx="542.6" cy="1319" r="9.5" fill="#4D88BD"/>
<circle cx="541.3" cy="1335.5" r="9.5" fill="#4D88BD"/>
<circle cx="659.8" cy="1305.3" r="9.5" fill="#4D88BD"/>
<circle cx="682.2" cy="1319.4" r="9.5" fill="#4D88BD"/>
<circle cx="691" cy="1328.6" r="9.5" fill="#4D88BD"/>
<circle cx="650.6" cy="1329.5" r="9.5" fill="#4D88BD"/>
<circle cx="661.6" cy="1337.7" r="9.5" fill="#4D88BD"/>
<circle cx="669.4" cy="1344.1" r="9.5" fill="#4D88BD"/>
<circle cx="606.3" cy="1352.3" r="9.5" fill="#4D88BD"/>
<circle cx="625" cy="1357.8" r="9.5" fill="#4D88BD"/>
<circle cx="648.8" cy="1362.4" r="9.5" fill="#4D88BD"/>
<circle cx="797.4" cy="1289.3" r="9.5" fill="#4D88BD"/>
<circle cx="702.8" cy="1355.1" r="9.5" fill="#4D88BD"/>
<circle cx="724.7" cy="1355.1" r="9.5" fill="#4D88BD"/>
<circle cx="788.8" cy="1370" r="9.5" fill="#4D88BD"/>
<circle cx="655.2" cy="1396" r="9.5" fill="#4D88BD"/>
<circle cx="681" cy="1396" r="9.5" fill="#4D88BD"/>
<circle cx="837.8" cy="1409.1" r="9.5" fill="#4D88BD"/>
<circle cx="810.2" cy="1437.4" r="9.5" fill="#4D88BD"/>
<circle cx="943.4" cy="1432.3" r="9.5" fill="#4D88BD"/>
<circle cx="977.6" cy="1452.5" r="9.5" fill="#4D88BD"/>
<circle cx="1162" cy="1437.7" r="9.5" fill="#4D88BD"/>
<circle cx="1029.4" cy="1464.6" r="9.5" fill="#4D88BD"/>
<circle cx="1148.9" cy="1496.6" r="9.5" fill="#4D88BD"/>
<circle cx="381.4" cy="1234.7" r="9.5" fill="#E8251F"/>
<circle cx="393.9" cy="1238.6" r="9.5" fill="#E8251F"/>
<circle cx="438" cy="1221.4" r="9.5" fill="#E8251F"/>
<circle cx="435" cy="1229.1" r="9.5" fill="#E8251F"/>
<circle cx="430.2" cy="1255.5" r="9.5" fill="#E8251F"/>
<circle cx="439.7" cy="1254.9" r="9.5" fill="#E8251F"/>
<circle cx="448.5" cy="1267.4" r="9.5" fill="#E8251F"/>
<circle cx="450" cy="1252.3" r="9.5" fill="#E8251F"/>
<circle cx="459.4" cy="1258.2" r="9.5" fill="#E8251F"/>
<circle cx="467.1" cy="1245.4" r="9.5" fill="#E8251F"/>
<circle cx="475.7" cy="1234.3" r="9.5" fill="#E8251F"/>
<circle cx="529.4" cy="1272.2" r="9.5" fill="#E8251F"/>
<circle cx="541.6" cy="1277.4" r="9.5" fill="#E8251F"/>
<circle cx="528.9" cy="1323.1" r="9.5" fill="#E8251F"/>
<circle cx="553" cy="1338.2" r="9.5" fill="#E8251F"/>
<circle cx="641" cy="1332.7" r="9.5" fill="#E8251F"/>
<circle cx="625" cy="1344.1" r="9.5" fill="#E8251F"/>
<circle cx="636" cy="1360.6" r="9.5" fill="#E8251F"/>
<circle cx="657.9" cy="1361.5" r="9.5" fill="#E8251F"/>
<circle cx="653.7" cy="1369.5" r="9.5" fill="#E8251F"/>
<circle cx="640.4" cy="1377.7" r="9.5" fill="#E8251F"/>
<circle cx="413.1" cy="1244.1" r="9.5" fill="#4D88BD"/>
<circle cx="475" cy="1260.5" r="9.5" fill="#4D88BD"/>
<circle cx="472.2" cy="1278" r="9.5" fill="#4D88BD"/>
<circle cx="1004.5" cy="738.3" r="9.5" fill="#61BF50"/>
<circle cx="1060.5" cy="805" r="9.5" fill="#61BF50"/>
<circle cx="924.7" cy="906.7" r="9.5" fill="#61BF50"/>
<circle cx="825.3" cy="946.3" r="9.5" fill="#61BF50"/>
<circle cx="734.5" cy="973" r="9.5" fill="#61BF50"/>
<circle cx="890.4" cy="1030.9" r="9.5" fill="#61BF50"/>
<circle cx="531.5" cy="1181.8" r="9.5" fill="#61BF50"/>
<circle cx="951" cy="1070.2" r="9.5" fill="#61BF50"/>
<circle cx="823.6" cy="1202.6" r="9.5" fill="#61BF50"/>
<circle cx="1105.9" cy="1079.2" r="9.5" fill="#61BF50"/>
<circle cx="1025.8" cy="1123" r="9.5" fill="#61BF50"/>
<circle cx="1077" cy="1142.1" r="9.5" fill="#61BF50"/>
<circle cx="1046.6" cy="1162.2" r="9.5" fill="#61BF50"/>
<circle cx="1165" cy="1176.3" r="9.5" fill="#61BF50"/>
<circle cx="1156.2" cy="1198" r="9.5" fill="#61BF50"/>
<circle cx="573.6" cy="1237.3" r="9.5" fill="#61BF50"/>
<circle cx="1014.1" cy="1224.9" r="9.5" fill="#61BF50"/>
<circle cx="913.4" cy="1271.2" r="9.5" fill="#61BF50"/>
<circle cx="601.7" cy="1321.3" r="9.5" fill="#61BF50"/>
<circle cx="670" cy="1384" r="9.5" fill="#61BF50"/>
<circle cx="713.9" cy="1360.7" r="9.5" fill="#61BF50"/>
<circle cx="970.3" cy="1306.2" r="9.5" fill="#61BF50"/>
<circle cx="968.3" cy="1355.9" r="9.5" fill="#61BF50"/>
<circle cx="886.8" cy="1369.4" r="9.5" fill="#61BF50"/>
<circle cx="890.4" cy="1383.3" r="9.5" fill="#61BF50"/>
<circle cx="939.7" cy="1379.5" r="9.5" fill="#61BF50"/>
<circle cx="1130.9" cy="1304.6" r="9.5" fill="#61BF50"/>
<circle cx="1117.1" cy="1392.3" r="9.5" fill="#61BF50"/>
<circle cx="687" cy="1415.3" r="9.5" fill="#61BF50"/>
<circle cx="755.7" cy="1430.3" r="9.5" fill="#61BF50"/>
<circle cx="837.6" cy="1422.3" r="9.5" fill="#61BF50"/>
<circle cx="1083.5" cy="1475.4" r="9.5" fill="#61BF50"/>
<circle cx="1149.8" cy="1470.3" r="9.5" fill="#61BF50"/>
<rect x="599.7" y="1229.2" width="31.6" height="31.6" fill="#E8251F"/>
<rect x="626" y="1216.9" width="31.6" height="31.6" fill="#4D88BD"/>
<rect x="822.4" y="1214" width="31.6" height="31.6" fill="#61BF50"/>
<polygon points="960.3,1297.7 957.37,1325.02 948.62,1351.21 934.19,1375.88 914.3,1398.66 889.24,1419.19 859.4,1437.18 825.23,1452.33 787.24,1464.43 746.02,1473.3 702.19,1478.79 656.41,1480.82 609.37,1479.37 561.79,1474.45 514.4,1466.14 467.9,1454.57 423.01,1439.91 380.4,1422.38 340.72,1402.25 304.57,1379.83 272.51,1355.44 245.01,1329.48 222.49,1302.32 205.29,1274.38 193.68,1246.08 187.83,1217.85 187.83,1190.13 193.68,1163.32 205.29,1137.84 222.49,1114.07 245.01,1092.37 272.51,1073.08 304.57,1056.48 340.72,1042.82 380.4,1032.32 423.01,1025.13 467.9,1021.36 514.4,1021.07 561.79,1024.26 609.37,1030.89 656.41,1040.85 702.19,1053.99 746.02,1070.11 787.24,1088.98 825.23,1110.3 859.4,1133.74 889.24,1158.96 914.3,1185.58 934.19,1213.18 948.62,1241.35 957.37,1269.67" fill="none" stroke="#E8251F" stroke-width="5.3" stroke-linejoin="round"/>
<polygon points="1015.4,1279.5 1012.22,1310.07 1002.74,1339.69 987.11,1367.93 965.54,1394.34 938.39,1418.54 906.04,1440.15 869.01,1458.84 827.84,1474.34 783.16,1486.4 735.66,1494.85 686.04,1499.56 635.06,1500.45 583.5,1497.51 532.13,1490.79 481.74,1480.38 433.08,1466.45 386.9,1449.21 343.9,1428.92 304.72,1405.88 269.97,1380.45 240.16,1353.01 215.75,1323.98 197.12,1293.79 184.53,1262.9 178.19,1231.79 178.19,1200.93 184.53,1170.77 197.12,1141.79 215.75,1114.41 240.16,1089.06 269.97,1066.11 304.72,1045.92 343.9,1028.79 386.9,1014.99 433.08,1004.71 481.74,998.12 532.13,995.32 583.5,996.35 635.06,1001.19 686.04,1009.76 735.66,1021.95 783.16,1037.57 827.84,1056.37 869.01,1078.08 906.04,1102.36 938.39,1128.84 965.54,1157.14 987.11,1186.8 1002.74,1217.4 1012.22,1248.45" fill="none" stroke="#4D88BD" stroke-width="5.3" stroke-linejoin="round"/>
<polygon points="1454.1,1238.55 1449.46,1288.24 1435.59,1337.28 1412.72,1384.92 1381.18,1430.46 1341.47,1473.19 1294.16,1512.47 1240,1547.7 1179.79,1578.35 1114.45,1603.96 1044.97,1624.13 972.4,1638.56 897.84,1647.04 822.43,1649.42 747.3,1645.69 673.6,1635.88 602.44,1620.16 534.9,1598.76 472.01,1572.01 414.71,1540.3 363.88,1504.13 320.29,1464.03 284.59,1420.63 257.34,1374.57 238.93,1326.55 229.66,1277.3 229.66,1227.57 238.93,1178.12 257.34,1129.68 284.59,1083 320.29,1038.78 363.88,997.7 414.71,960.37 472.01,927.37 534.9,899.19 602.44,876.26 673.6,858.92 747.3,847.45 822.43,842.01 897.84,842.68 972.4,849.46 1044.97,862.25 1114.45,880.85 1179.79,904.97 1240,934.25 1294.16,968.26 1341.47,1006.46 1381.18,1048.29 1412.72,1093.11 1435.59,1140.24 1449.46,1188.97" fill="none" stroke="#61BF50" stroke-width="5.3" stroke-linejoin="round"/>
</g>
<rect x="114" y="693.4" width="1403" height="1000.6" fill="none" stroke="#222222" stroke-width="1.75"/>
<line x1="104" y1="1470.44" x2="114" y2="1470.44" stroke="#222222" stroke-width="3.4" />
<text x="95.5" y="1478.24" font-size="22.0" fill="#4D4D4D" text-anchor="end" >-0.3</text>
<line x1="104" y1="1236.8" x2="114" y2="1236.8" stroke="#222222" stroke-width="3.4" />
<text x="95.5" y="1244.6" font-size="22.0" fill="#4D4D4D" text-anchor="end" >0.0</text>
<line x1="104" y1="1003.16" x2="114" y2="1003.16" stroke="#222222" stroke-width="3.4" />
<text x="95.5" y="1010.96" font-size="22.0" fill="#4D4D4D" text-anchor="end" >0.3</text>
<line x1="104" y1="769.52" x2="114" y2="769.52" stroke="#222222" stroke-width="3.4" />
<text x="95.5" y="777.32" font-size="22.0" fill="#4D4D4D" text-anchor="end" >0.6</text>
<line x1="232.2" y1="1694" x2="232.2" y2="1704" stroke="#222222" stroke-width="3.4" />
<text x="232.2" y="1728.6" font-size="22.0" fill="#4D4D4D" text-anchor="middle" >-0.5</text>
<line x1="671" y1="1694" x2="671" y2="1704" stroke="#222222" stroke-width="3.4" />
<text x="671" y="1728.6" font-size="22.0" fill="#4D4D4D" text-anchor="middle" >0.0</text>
<line x1="1109.8" y1="1694" x2="1109.8" y2="1704" stroke="#222222" stroke-width="3.4" />
<text x="1109.8" y="1728.6" font-size="22.0" fill="#4D4D4D" text-anchor="middle" >0.5</text>
<text x="815.5" y="1761.1" font-size="27.2" fill="#000" text-anchor="middle" >PC1 (38%)</text>
<text x="43.5" y="1193.7" font-size="27.2" fill="#000" text-anchor="middle" transform="rotate(-90 43.5 1193.7)">PC2 (18%)</text>
<text x="-0.8" y="687.2" font-size="45" fill="#000" text-anchor="start" >c</text>
<text x="140.6" y="753.7" font-size="29.3" fill="#000" text-anchor="start" >TvsC p=0.212</text>
<text x="140.6" y="795.95" font-size="29.3" fill="#000" text-anchor="start" >TvsB p=0.003</text>
<text x="140.6" y="838.2" font-size="29.3" fill="#000" text-anchor="start" >CvsB p=0.003</text>
<line x1="1580.8" y1="1144.5" x2="1628.2" y2="1144.5" stroke="#E8251F" stroke-width="6" />
<circle cx="1604.5" cy="1144.5" r="9.3" fill="#E8251F"/>
<text x="1653" y="1152.6" font-size="22.3" fill="#000" text-anchor="start" >Test</text>
<line x1="1580.8" y1="1203.7" x2="1628.2" y2="1203.7" stroke="#4D88BD" stroke-width="6" />
<circle cx="1604.5" cy="1203.7" r="9.3" fill="#4D88BD"/>
<text x="1653" y="1211.8" font-size="22.3" fill="#000" text-anchor="start" >Control</text>
<line x1="1580.8" y1="1262.9" x2="1628.2" y2="1262.9" stroke="#61BF50" stroke-width="6" />
<circle cx="1604.5" cy="1262.9" r="9.3" fill="#61BF50"/>
<text x="1653" y="1271" font-size="22.3" fill="#000" text-anchor="start" >Breastfed</text>
</svg></body></html>
